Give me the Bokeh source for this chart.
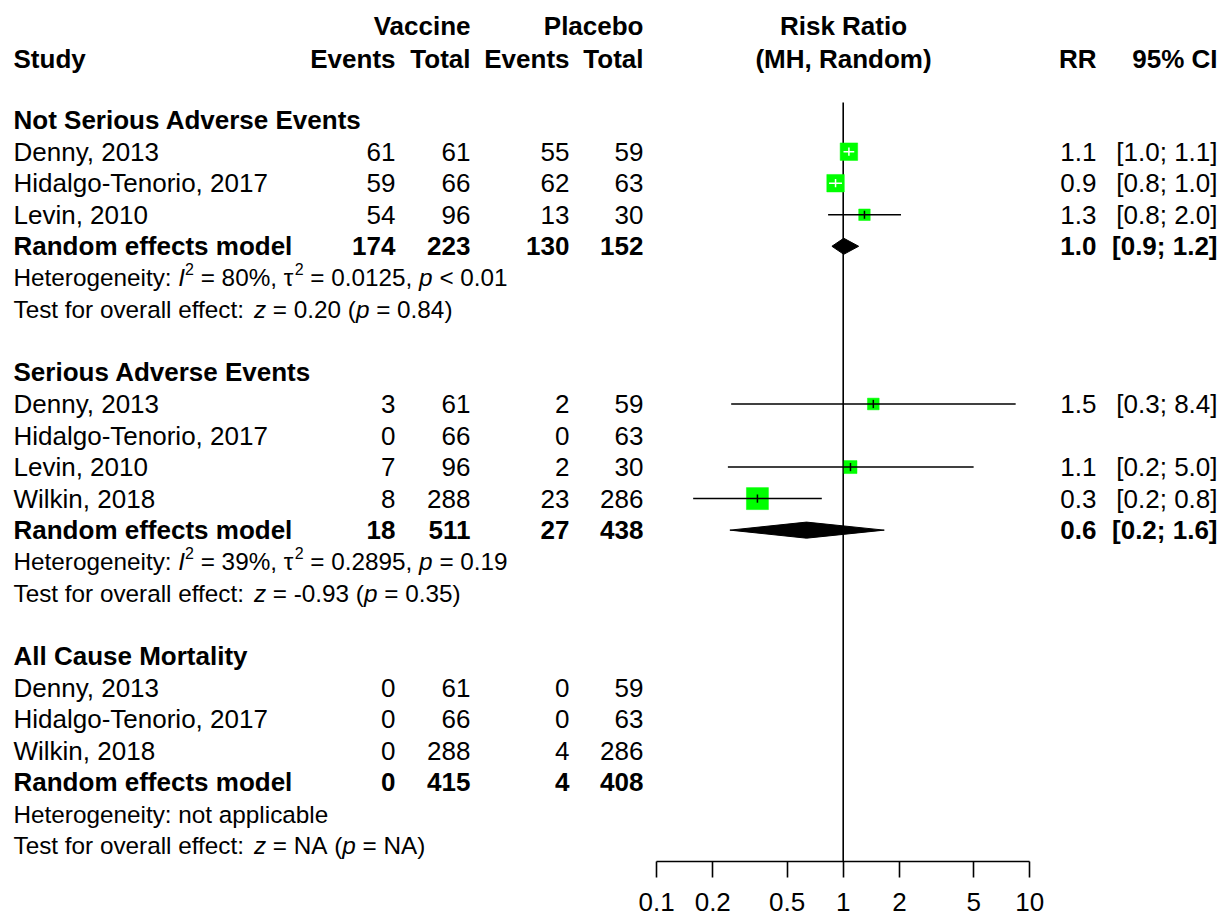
from bokeh.plotting import figure
from bokeh.models import Range1d, LogScale, LogAxis, FixedTicker, CustomJSTickFormatter
from bokeh.core.properties import value
from bokeh.embed import file_html
from bokeh.resources import INLINE

FONT = "Liberation Sans"

# ---------------- data ----------------
group_titles = ["Not Serious Adverse Events", "Serious Adverse Events", "All Cause Mortality"]

g1_studies = ["Denny, 2013", "Hidalgo-Tenorio, 2017", "Levin, 2010"]
g1_vac_events = [61, 59, 54]
g1_vac_total = [61, 66, 96]
g1_pla_events = [55, 62, 13]
g1_pla_total = [59, 63, 30]
g1_rr = [1.073, 0.91, 1.30]
g1_lower = [1.004, 0.84, 0.83]
g1_upper = [1.146, 0.985, 2.04]
g1_rr_text = ["1.1", "0.9", "1.3"]
g1_ci_text = ["[1.0; 1.1]", "[0.8; 1.0]", "[0.8; 2.0]"]
g1_pooled = [174, 223, 130, 152]
g1_pooled_est = [0.87, 1.007, 1.21]
g1_pooled_text = ["1.0", "[0.9; 1.2]"]
g1_het = [("Heterogeneity: ", "n"), ("I", "i"), ("2", "s"), (" = 80%, ", "n"), ("\u03c4", "n"),
          ("2", "s"), (" = 0.0125, ", "n"), ("p", "i"), (" < 0.01", "n")]
g1_test = [("Test for overall effect: ", "n"), ("z", "i"), (" = 0.20 (", "n"), ("p", "i"), (" = 0.84)", "n")]

g2_studies = ["Denny, 2013", "Hidalgo-Tenorio, 2017", "Levin, 2010", "Wilkin, 2018"]
g2_vac_events = [3, 0, 7, 8]
g2_vac_total = [61, 66, 96, 288]
g2_pla_events = [2, 0, 2, 23]
g2_pla_total = [59, 63, 30, 286]
g2_rr = [1.45, None, 1.094, 0.347]
g2_lower = [0.251, None, 0.241, 0.157]
g2_upper = [8.4, None, 5.0, 0.768]
g2_rr_text = ["1.5", "", "1.1", "0.3"]
g2_ci_text = ["[0.3; 8.4]", "", "[0.2; 5.0]", "[0.2; 0.8]"]
g2_pooled = [18, 511, 27, 438]
g2_pooled_est = [0.247, 0.636, 1.66]
g2_pooled_text = ["0.6", "[0.2; 1.6]"]
g2_het = [("Heterogeneity: ", "n"), ("I", "i"), ("2", "s"), (" = 39%, ", "n"), ("\u03c4", "n"),
          ("2", "s"), (" = 0.2895, ", "n"), ("p", "i"), (" = 0.19", "n")]
g2_test = [("Test for overall effect: ", "n"), ("z", "i"), (" = -0.93 (", "n"), ("p", "i"), (" = 0.35)", "n")]

g3_studies = ["Denny, 2013", "Hidalgo-Tenorio, 2017", "Wilkin, 2018"]
g3_vac_events = [0, 0, 0]
g3_vac_total = [61, 66, 288]
g3_pla_events = [0, 0, 4]
g3_pla_total = [59, 63, 286]
g3_rr = [None, None, None]
g3_lower = [None, None, None]
g3_upper = [None, None, None]
g3_rr_text = ["", "", ""]
g3_ci_text = ["", "", ""]
g3_pooled = [0, 415, 4, 408]
g3_pooled_est = None
g3_pooled_text = ["", ""]
g3_het = [("Heterogeneity: not applicable", "n")]
g3_test = [("Test for overall effect: ", "n"), ("z", "i"), (" = NA (", "n"), ("p", "i"), (" = NA)", "n")]

axis_ticks = [0.1, 0.2, 0.5, 1, 2, 5, 10]

# ---------------- styles / layout ----------------
g1_sizes = [17.5, 17.5, 11.5]
g2_sizes = [11.7, None, 13, 22]
g3_sizes = [None, None, None]
g1_inside = [True, True, False]
g2_inside = [False, False, False, False]
g3_inside = [False, False, False]

groups = [
    (group_titles[0], g1_studies, g1_vac_events, g1_vac_total, g1_pla_events, g1_pla_total,
     g1_rr, g1_lower, g1_upper, g1_rr_text, g1_ci_text, g1_pooled, g1_pooled_est, g1_pooled_text,
     g1_het, g1_test, g1_sizes, g1_inside),
    (group_titles[1], g2_studies, g2_vac_events, g2_vac_total, g2_pla_events, g2_pla_total,
     g2_rr, g2_lower, g2_upper, g2_rr_text, g2_ci_text, g2_pooled, g2_pooled_est, g2_pooled_text,
     g2_het, g2_test, g2_sizes, g2_inside),
    (group_titles[2], g3_studies, g3_vac_events, g3_vac_total, g3_pla_events, g3_pla_total,
     g3_rr, g3_lower, g3_upper, g3_rr_text, g3_ci_text, g3_pooled, g3_pooled_est, g3_pooled_text,
     g3_het, g3_test, g3_sizes, g3_inside),
]
group_start_rows = [3, 11, 20]

STUDY_X, VE_X, VT_X, PE_X, PT_X = 13, 395, 470, 569, 643
CENTER_X, RR_X, CI_X = 843, 1096, 1217
FS, FS_STAT, FS_SUP = 26, 24.3, 16

# image-pixel layout: row r sits at 25 + 31.54 r; frame spans y 0..861 and x 0..1222
ROW0, ROWH = 25.0, 31.54
FRAME_TOP, FRAME_BOT, FRAME_L, FRAME_R = 0, 861, 0, 1222
X1, DEC = 842.7, 186.6  # pixel of RR=1, pixels per decade

p = figure(frame_width=FRAME_R - FRAME_L, frame_height=FRAME_BOT - FRAME_TOP,
           x_range=Range1d(FRAME_L, FRAME_R),
           y_range=Range1d((FRAME_BOT - ROW0) / ROWH, (FRAME_TOP - ROW0) / ROWH),
           x_axis_type=None, y_axis_type=None, toolbar_location=None,
           output_backend="svg", min_border=0, min_border_bottom=60,
           outline_line_color=None)
p.xgrid.visible = False
p.ygrid.visible = False
p.extra_x_ranges = {"rr": Range1d(10 ** ((FRAME_L - X1) / DEC), 10 ** ((FRAME_R - X1) / DEC))}
p.extra_x_scales = {"rr": LogScale()}

ax = LogAxis(x_range_name="rr", bounds=(0.1, 10), ticker=FixedTicker(ticks=axis_ticks),
             formatter=CustomJSTickFormatter(code="return String(tick)"))
ax.axis_line_width = 1.6
ax.axis_line_color = "black"
ax.major_tick_line_width = 1.6
ax.major_tick_line_color = "black"
ax.major_tick_in = 0
ax.major_tick_out = 16
ax.minor_tick_line_color = None
ax.major_label_text_font = FONT
ax.major_label_text_font_size = f"{FS}px"
ax.major_label_text_color = "black"
ax.major_label_standoff = 15
p.add_layout(ax, "below")

# ---------------- text collection ----------------
WIDTHS = {" ": .278, "%": .889, "(": .333, ")": .333, ",": .278, "-": .333, ".": .278, ":": .278,
          ";": .278, "<": .584, "=": .584, "[": .278, "]": .278, "A": .667, "H": .722, "I": .278,
          "N": .722, "T": .611, "a": .556, "b": .556, "c": .5, "d": .556, "e": .556, "f": .278,
          "g": .556, "h": .556, "i": .222, "l": .222, "m": .833, "n": .556, "o": .556, "p": .556,
          "r": .333, "s": .5, "t": .278, "u": .556, "v": .5, "y": .5, "z": .5, "\u03c4": .45}


def tw(s, size):
    return sum(WIDTHS.get(c, .556) for c in s) * size


cats = {}


def add(cat, x, y, t):
    d = cats.setdefault(cat, {"x": [], "y": [], "text": []})
    d["x"].append(x)
    d["y"].append(y)
    d["text"].append(str(t))


def add_runs(runs, x, y):
    for t, st in runs:
        shown = t.replace(" ", "\u00a0")
        if st == "s":
            add("sup", x, y, shown)
            x += tw(t, FS_SUP)
        else:
            add("stat_" + st, x, y, shown)
            x += tw(t, FS_STAT)


# headers
add("bold_right", VT_X, 0, "Vaccine")
add("bold_right", PT_X, 0, "Placebo")
add("bold_center", CENTER_X, 0, "Risk Ratio")
HR = 1.05
add("bold_left", STUDY_X, HR, "Study")
for xx, t in [(VE_X, "Events"), (VT_X, "Total"), (PE_X, "Events"), (PT_X, "Total"),
              (RR_X, "RR"), (CI_X, "95% CI")]:
    add("bold_right", xx, HR, t)
add("bold_center", CENTER_X, HR, "(MH, Random)")

sq = {"x": [], "y": [], "size": []}
ci = {"x0": [], "x1": [], "y": [], "color": []}
tk = {"x": [], "y0": [], "y1": [], "color": []}
dia = {"xs": [], "ys": []}

for (title, studies, ve, vt, pe, pt, rr, lo, hi, rrt, cit, pooled, pest, ptext,
     het, test, sizes, inside), r0 in zip(groups, group_start_rows):
    add("bold_left", STUDY_X, r0, title)
    for i, s in enumerate(studies):
        r = r0 + 1 + i
        add("norm_left", STUDY_X, r, s)
        add("norm_right", VE_X, r, ve[i])
        add("norm_right", VT_X, r, vt[i])
        add("norm_right", PE_X, r, pe[i])
        add("norm_right", PT_X, r, pt[i])
        if rrt[i]:
            add("norm_right", RR_X, r, rrt[i])
            add("norm_right", CI_X, r, cit[i])
        if rr[i] is not None:
            col = "white" if inside[i] else "black"
            sq["x"].append(rr[i]); sq["y"].append(r); sq["size"].append(sizes[i])
            ci["x0"].append(lo[i]); ci["x1"].append(hi[i]); ci["y"].append(r); ci["color"].append(col)
            tk["x"].append(rr[i]); tk["y0"].append(r - 0.13); tk["y1"].append(r + 0.13); tk["color"].append(col)
    rp = r0 + 1 + len(studies)
    add("bold_left", STUDY_X, rp, "Random effects model")
    for xx, v in zip([VE_X, VT_X, PE_X, PT_X], pooled):
        add("bold_right", xx, rp, v)
    if ptext[0]:
        add("bold_right", RR_X, rp, ptext[0])
        add("bold_right", CI_X, rp, ptext[1])
    if pest is not None:
        dia["xs"].append([pest[0], pest[1], pest[2], pest[1]])
        dia["ys"].append([rp, rp - 0.255, rp, rp + 0.255])
    add_runs(het, STUDY_X, rp + 1)
    add_runs(test, STUDY_X, rp + 2)

# ---------------- forest marks ----------------
p.segment(x0=1, x1=1, y0=(102 - ROW0) / ROWH, y1=(FRAME_BOT - ROW0) / ROWH, x_range_name="rr",
          line_color="black", line_width=1.6)
p.scatter(x="x", y="y", size="size", source=sq, marker="square", x_range_name="rr",
          fill_color="#00ff00", line_color="#00ff00", line_width=0.5)
p.segment(x0="x0", x1="x1", y0="y", y1="y", source=ci, x_range_name="rr", line_color="color",
          line_width=1.5)
p.segment(x0="x", x1="x", y0="y0", y1="y1", source=tk, x_range_name="rr", line_color="color",
          line_width=1.5)
p.patches(xs="xs", ys="ys", source=dia, x_range_name="rr", fill_color="black", line_color="black")

styles = {
    "bold_left": ("left", "bold", FS, 0),
    "bold_right": ("right", "bold", FS, 0),
    "bold_center": ("center", "bold", FS, 0),
    "norm_left": ("left", "normal", FS, 0),
    "norm_right": ("right", "normal", FS, 0),
    "stat_n": ("left", "normal", FS_STAT, 0),
    "stat_i": ("left", "italic", FS_STAT, 0),
    "sup": ("left", "normal", FS_SUP, -9),
}
for cat, d in cats.items():
    align, style, size, yoff = styles[cat]
    p.text(x="x", y="y", text="text", source=d, text_align=align, text_baseline="middle",
           text_font=value(FONT), text_font_style=style, text_font_size=f"{size}px",
           text_color="black", y_offset=yoff)

open("out.html", "w").write(file_html(p, INLINE))
